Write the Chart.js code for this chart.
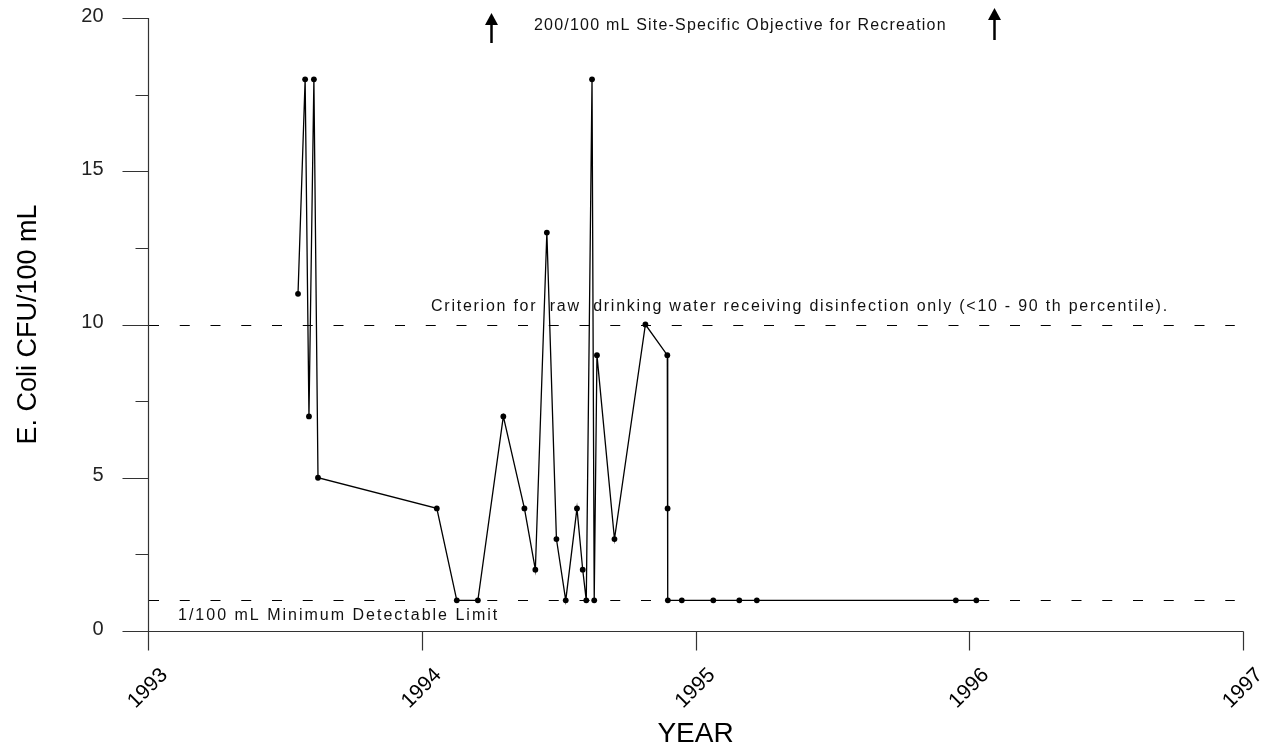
<!DOCTYPE html>
<html>
<head>
<meta charset="UTF-8" />
<title>E. Coli CFU/100 mL</title>
<style>
  * { margin: 0; padding: 0; box-sizing: border-box; }
  body { background: #fff; width: 1282px; height: 751px; overflow: hidden; }
  canvas { display: block; }
</style>
</head>
<body>
<canvas id="chart" width="1282" height="751"></canvas>
<script src="https://cdn.jsdelivr.net/npm/chart.js"></script>
<script>
// sample dates (decimal year) and E. coli counts
const years = [
  1993.548, 1993.574, 1993.588, 1993.606, 1993.621,
  1994.055, 1994.128, 1994.205, 1994.298, 1994.375, 1994.415, 1994.457,
  1994.492, 1994.526, 1994.567, 1994.588, 1994.601, 1994.622, 1994.630,
  1994.640, 1994.704, 1994.817, 1994.897, 1994.898, 1994.899, 1994.950,
  1995.065, 1995.160, 1995.224, 1995.951, 1996.026
];
const coli = [
  11, 18, 7, 18, 5,
  4, 1, 1, 7, 4, 2, 13,
  3, 1, 4, 2, 1, 18, 1,
  9, 3, 10, 9, 4, 1, 1,
  1, 1, 1, 1, 1
];
const xTicks = [1993, 1994, 1995, 1996, 1997];
const yTicks = [0, 5, 10, 15, 20];
const yMinorTicks = [2.5, 7.5, 12.5, 17.5];

const criterion = 10;     // raw drinking water, disinfection only
const detectLimit = 1;    // minimum detectable limit
const arrowYears = [1994.252, 1996.091]; // 200/100 mL objective is off the scale

const FONT = "Arial, 'Liberation Sans', sans-serif";

const axesPlugin = {
  id: "axes",
  beforeDatasetsDraw(chart) {
    const { ctx, scales: { x, y } } = chart;
    ctx.save();
    ctx.strokeStyle = "#000";
    ctx.lineWidth = 1;
    ctx.setLineDash([10, 20.75]);
    [criterion, detectLimit].forEach((v) => {
      const py = Math.round(y.getPixelForValue(v)) + 0.5;
      ctx.beginPath();
      ctx.moveTo(x.left + 1, py);
      ctx.lineTo(x.getPixelForValue(1996.97), py);
      ctx.stroke();
    });
    ctx.restore();
  },
  afterDraw(chart) {
    const { ctx, scales: { x, y } } = chart;
    const left = Math.round(x.left) + 0.5;
    const bottom = Math.round(y.bottom) + 0.5;
    ctx.save();
    ctx.strokeStyle = "#333";
    ctx.lineWidth = 1.2;

    // axis lines
    ctx.beginPath();
    ctx.moveTo(left, Math.round(y.top));
    ctx.lineTo(left, bottom);
    ctx.lineTo(Math.round(x.right) + 0.5, bottom);
    ctx.stroke();

    // y ticks
    ctx.beginPath();
    yTicks.forEach((v) => {
      const py = Math.round(y.getPixelForValue(v)) + 0.5;
      ctx.moveTo(left - 26, py);
      ctx.lineTo(left, py);
    });
    yMinorTicks.forEach((v) => {
      const py = Math.round(y.getPixelForValue(v)) + 0.5;
      ctx.moveTo(left - 13, py);
      ctx.lineTo(left, py);
    });
    // x ticks
    xTicks.forEach((v) => {
      const px = Math.round(x.getPixelForValue(v)) + 0.5;
      ctx.moveTo(px, bottom);
      ctx.lineTo(px, bottom + 19);
    });
    ctx.stroke();

    // y tick labels
    ctx.fillStyle = "#222";
    ctx.font = "20px " + FONT;
    ctx.textAlign = "right";
    ctx.textBaseline = "middle";
    yTicks.forEach((v) => {
      ctx.fillText(String(v), left - 45, y.getPixelForValue(v) - 2);
    });

    // x tick labels, rotated
    ctx.fillStyle = "#000";
    ctx.font = "21px " + FONT;
    ctx.textAlign = "center";
    xTicks.forEach((v) => {
      ctx.save();
      ctx.translate(x.getPixelForValue(v), bottom + 57);
      ctx.rotate(-Math.PI / 4);
      ctx.fillText(String(v), 0, 0);
      ctx.restore();
    });

    // axis titles
    ctx.font = "28px " + FONT;
    ctx.textBaseline = "alphabetic";
    ctx.fillText("YEAR", (x.left + x.right) / 2, 742);
    ctx.save();
    ctx.translate(29, (y.top + y.bottom) / 2);
    ctx.rotate(-Math.PI / 2);
    ctx.font = "27px " + FONT;
    ctx.textBaseline = "middle";
    ctx.fillText("E. Coli CFU/100 mL", 0, 0);
    ctx.restore();

    // annotations
    ctx.fillStyle = "#111";
    ctx.textAlign = "left";
    ctx.textBaseline = "alphabetic";
    ctx.font = "16px " + FONT;
    ctx.letterSpacing = "1.75px";
    ctx.fillText("Criterion for  raw  drinking water receiving disinfection only (<10 - 90 th percentile).", 431, y.getPixelForValue(criterion) - 14);
    ctx.letterSpacing = "2px";
    ctx.fillText("1/100 mL Minimum Detectable Limit", 178, y.getPixelForValue(detectLimit) + 20);
    ctx.letterSpacing = "1.2px";
    ctx.fillText("200/100 mL Site-Specific Objective for Recreation", 534, 30);
    ctx.letterSpacing = "0px";

    // arrows pointing up to the off-scale objective
    ctx.fillStyle = "#000";
    ctx.strokeStyle = "#000";
    ctx.lineWidth = 2.5;
    arrowYears.forEach((v, i) => {
      const px = Math.round(x.getPixelForValue(v)) + 0.5;
      const top = i === 0 ? 13 : 8;
      const base = i === 0 ? 43 : 40;
      ctx.beginPath();
      ctx.moveTo(px, base);
      ctx.lineTo(px, top + 10);
      ctx.stroke();
      ctx.beginPath();
      ctx.moveTo(px, top);
      ctx.lineTo(px - 6.5, top + 12);
      ctx.lineTo(px + 6.5, top + 12);
      ctx.closePath();
      ctx.fill();
    });
    ctx.restore();
  },
};

const points = years.map((yr, i) => ({ x: yr, y: coli[i] }));

new Chart(document.getElementById("chart"), {
  type: "scatter",
  data: {
    datasets: [
      {
        data: points,
        showLine: true,
        borderColor: "#000",
        borderWidth: 1.3,
        pointRadius: 2.9,
        pointBackgroundColor: "#000",
        pointBorderWidth: 0,
      },
    ],
  },
  options: {
    responsive: false,
    animation: false,
    layout: { padding: { left: 148, right: 39, top: 18, bottom: 120 } },
    plugins: { legend: { display: false }, tooltip: { enabled: false } },
    scales: {
      x: { type: "linear", min: 1993, max: 1997, display: false },
      y: { min: 0, max: 20, display: false },
    },
  },
  plugins: [axesPlugin],
});
</script>
</body>
</html>
